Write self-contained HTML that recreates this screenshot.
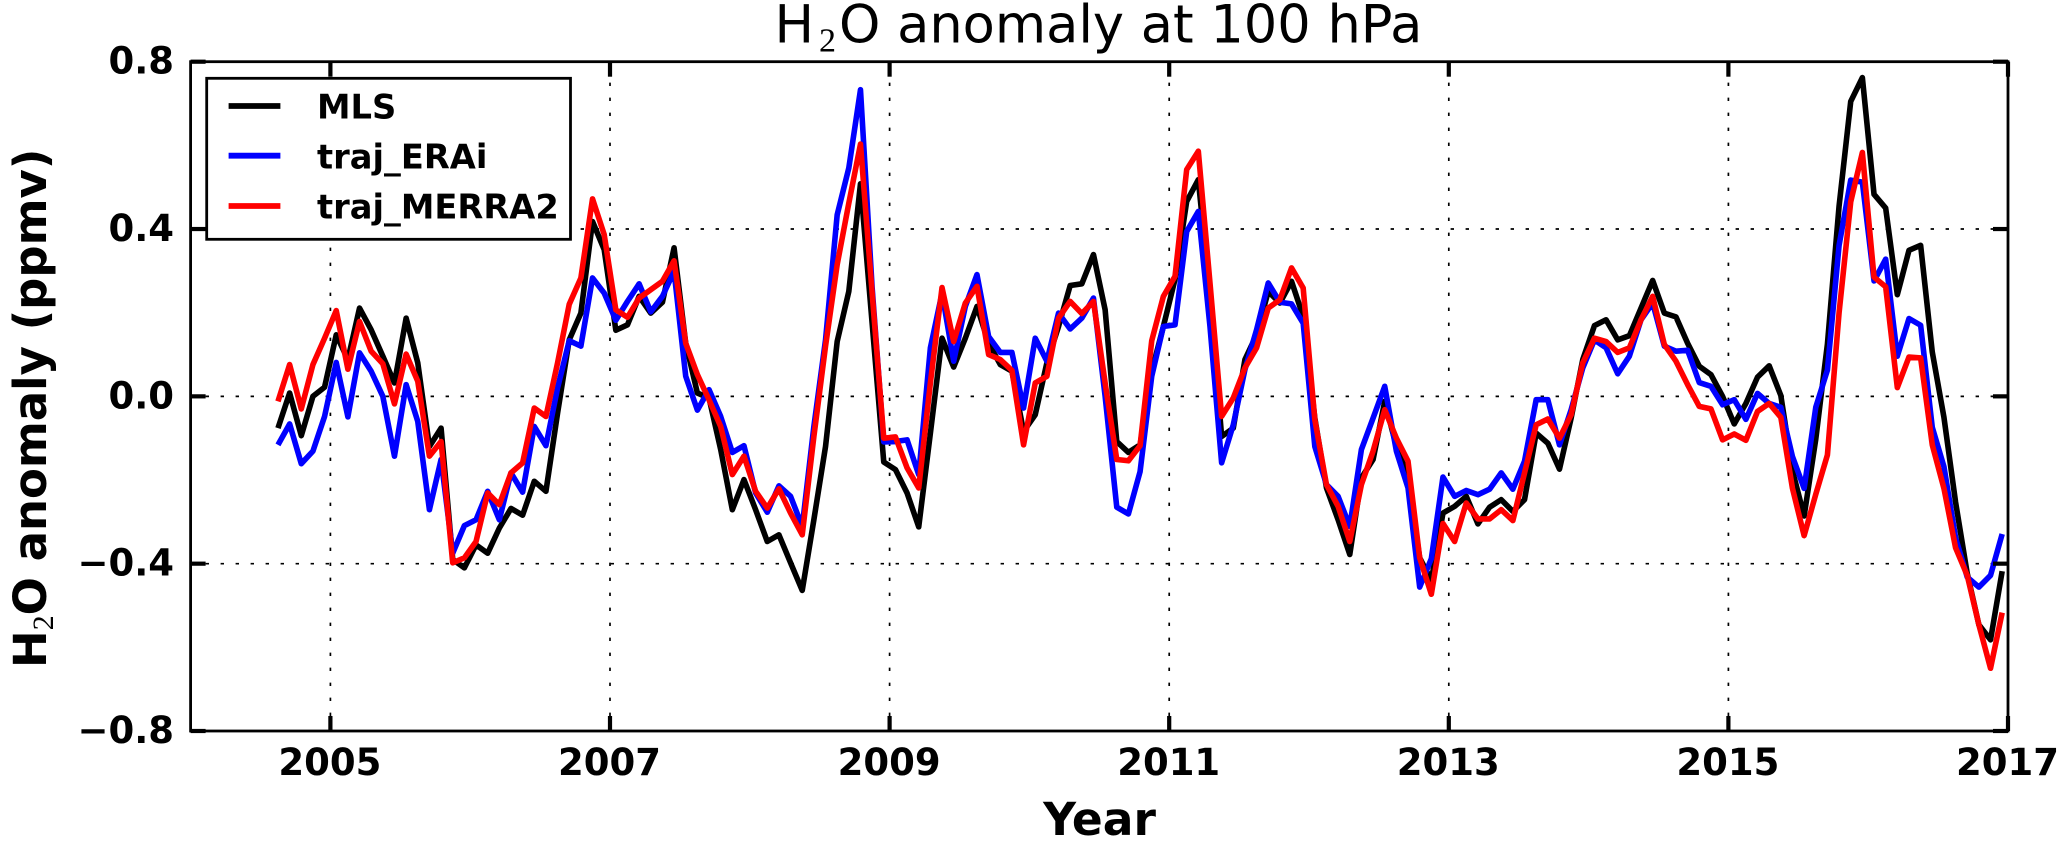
<!DOCTYPE html>
<html lang="en">
<head>
<meta charset="utf-8">
<title>H2O anomaly at 100 hPa</title>
<style>
  html, body { margin: 0; padding: 0; background: #fff; }
  svg { display: block; }
  text { fill: #000; font-family: "DejaVu Sans", "Liberation Sans", sans-serif; }
  .tick-label { font-weight: bold; font-size: 37px; }
  .legend-label { font-weight: bold; font-size: 33.7px; }
</style>
</head>
<body>
<svg id="chart" xmlns="http://www.w3.org/2000/svg" width="2065" height="843" viewBox="0 0 2065 843">
  <rect x="0" y="0" width="2065" height="843" fill="#fff"/>
  <text y="42.7" font-size="52.6"><tspan x="774.5">H</tspan><tspan x="819" y="51.5" font-size="34" style="font-family:'Liberation Serif',serif">2</tspan><tspan x="839" y="42.7">O anomaly at 100 hPa</tspan></text>
  <text transform="translate(46,668) rotate(-90)" font-size="45" font-weight="bold">H<tspan dy="7" font-size="30" font-weight="normal" style="font-family:'Liberation Serif',serif">2</tspan><tspan dy="-7">O anomaly (ppmv)</tspan></text>
  <text x="1099.5" y="835" font-size="45.5" font-weight="bold" text-anchor="middle">Year</text>
  <g id="grid"></g>
  <g id="series"></g>
  <g id="frame"></g>
  <g id="labels"></g>
  <g>
    <rect x="206.7" y="78.3" width="363.8" height="161" fill="#fff" stroke="#000" stroke-width="2.8"/>
    <g>
      <line x1="228.6" x2="280.4" y1="106" y2="106" stroke="#000" stroke-width="5.8"/>
      <text class="legend-label" x="317" y="118.5">MLS</text>
    </g>
    <g>
      <line x1="228.6" x2="280.4" y1="155.7" y2="155.7" stroke="#0000ff" stroke-width="5.8"/>
      <text class="legend-label" x="317" y="168.5">traj_ERAi</text>
    </g>
    <g>
      <line x1="228.6" x2="280.4" y1="206" y2="206" stroke="#ff0000" stroke-width="5.8"/>
      <text class="legend-label" x="317" y="218.5">traj_MERRA2</text>
    </g>
  </g>
</svg>
<script>
const xTicks = [2005, 2007, 2009, 2011, 2013, 2015, 2017];
const yTicks = [0.8, 0.4, 0.0, -0.4, -0.8];
const yTickLabels = ['0.8', '0.4', '0.0', '\u22120.4', '\u22120.8'];

const mlsValues = [
  -0.076, 0.008, -0.094, 0.0, 0.022, 0.147, 0.088, 0.211, 0.159, 0.096, 0.032, 0.187,
  0.08, -0.12, -0.076, -0.39, -0.41, -0.355, -0.375, -0.315, -0.268, -0.284, -0.203, -0.227,
  -0.04, 0.135, 0.199, 0.418, 0.351, 0.158, 0.171, 0.239, 0.199, 0.225, 0.355, 0.127,
  0.008, -0.004, -0.127, -0.271, -0.199, -0.271, -0.347, -0.331, -0.398, -0.464, -0.295, -0.12,
  0.131, 0.251, 0.508, 0.175, -0.157, -0.175, -0.231, -0.312, -0.088, 0.139, 0.07, 0.139,
  0.215, 0.127, 0.076, 0.06, -0.084, -0.044, 0.08, 0.167, 0.265, 0.269, 0.339, 0.207,
  -0.108, -0.134, -0.116, 0.06, 0.167, 0.28, 0.466, 0.518, 0.24, -0.096, -0.076, 0.088,
  0.147, 0.251, 0.223, 0.275, 0.191, -0.052, -0.219, -0.295, -0.378, -0.195, -0.151, -0.012,
  -0.12, -0.191, -0.386, -0.44, -0.279, -0.263, -0.239, -0.305, -0.265, -0.247, -0.275, -0.247,
  -0.088, -0.112, -0.174, -0.052, 0.088, 0.169, 0.183, 0.135, 0.145, 0.211, 0.277, 0.199,
  0.19, 0.127, 0.072, 0.052, 0.0, -0.066, -0.017, 0.046, 0.073, 0.002, -0.178, -0.286,
  -0.102, 0.125, 0.455, 0.705, 0.762, 0.483, 0.45, 0.243, 0.349, 0.361, 0.106, -0.05,
  -0.253, -0.423, -0.546, -0.582, -0.418
];

const eraiValues = [
  -0.116, -0.066, -0.161, -0.131, -0.048, 0.081, -0.049, 0.104, 0.06, 0.0, -0.143, 0.028,
  -0.06, -0.271, -0.151, -0.375, -0.309, -0.295, -0.227, -0.295, -0.183, -0.229, -0.072, -0.118,
  0.02, 0.133, 0.12, 0.283, 0.247, 0.182, 0.227, 0.269, 0.202, 0.239, 0.299, 0.048,
  -0.033, 0.016, -0.048, -0.134, -0.118, -0.231, -0.277, -0.214, -0.239, -0.311, -0.072, 0.135,
  0.434, 0.546, 0.733, 0.26, -0.109, -0.108, -0.104, -0.187, 0.116, 0.247, 0.084, 0.215,
  0.291, 0.143, 0.105, 0.105, -0.028, 0.139, 0.084, 0.199, 0.161, 0.187, 0.235, 0.0,
  -0.265, -0.281, -0.18, 0.048, 0.167, 0.171, 0.394, 0.442, 0.167, -0.159, -0.068, 0.064,
  0.159, 0.271, 0.225, 0.221, 0.175, -0.12, -0.211, -0.239, -0.311, -0.127, -0.052, 0.024,
  -0.131, -0.219, -0.456, -0.388, -0.193, -0.239, -0.225, -0.235, -0.222, -0.183, -0.222, -0.155,
  -0.008, -0.008, -0.116, -0.032, 0.068, 0.135, 0.116, 0.054, 0.096, 0.183, 0.223, 0.12,
  0.108, 0.11, 0.033, 0.024, -0.02, -0.008, -0.055, 0.007, -0.017, -0.026, -0.144, -0.22,
  -0.026, 0.063, 0.361, 0.517, 0.512, 0.276, 0.328, 0.096, 0.186, 0.17, -0.074, -0.168,
  -0.338, -0.432, -0.456, -0.428, -0.329
];

const merra2Values = [
  -0.012, 0.076, -0.03, 0.076, 0.139, 0.205, 0.065, 0.179, 0.108, 0.078, -0.018, 0.101,
  0.036, -0.143, -0.108, -0.398, -0.386, -0.347, -0.231, -0.259, -0.183, -0.159, -0.028, -0.048,
  0.08, 0.22, 0.283, 0.472, 0.387, 0.207, 0.189, 0.235, 0.255, 0.275, 0.324, 0.127,
  0.052, -0.008, -0.072, -0.187, -0.143, -0.227, -0.267, -0.221, -0.279, -0.331, -0.096, 0.12,
  0.315, 0.462, 0.603, 0.247, -0.1, -0.097, -0.171, -0.219, 0.032, 0.26, 0.131, 0.223,
  0.263, 0.1, 0.088, 0.062, -0.116, 0.032, 0.048, 0.187, 0.227, 0.198, 0.227, 0.032,
  -0.151, -0.154, -0.118, 0.133, 0.239, 0.287, 0.542, 0.586, 0.271, -0.048, -0.004, 0.068,
  0.116, 0.211, 0.231, 0.307, 0.259, -0.056, -0.211, -0.263, -0.347, -0.211, -0.131, -0.032,
  -0.1, -0.155, -0.386, -0.473, -0.304, -0.347, -0.255, -0.293, -0.293, -0.271, -0.297, -0.183,
  -0.068, -0.054, -0.1, -0.044, 0.08, 0.139, 0.131, 0.105, 0.116, 0.183, 0.239, 0.124,
  0.084, 0.028, -0.024, -0.03, -0.104, -0.09, -0.105, -0.036, -0.017, -0.05, -0.22, -0.333,
  -0.234, -0.14, 0.2, 0.465, 0.583, 0.285, 0.262, 0.021, 0.094, 0.092, -0.116, -0.22,
  -0.362, -0.428, -0.546, -0.65, -0.517
];

const SVG_NS = 'http://www.w3.org/2000/svg';
const firstMonth = 2004 + 7.5 / 12;
const plot = { left: 190.6, right: 2008, top: 61.7, bottom: 731 };
const xDomain = [2004, 2017];
const yDomain = [-0.8, 0.8];

function xScale(t) {
  return plot.left + (t - xDomain[0]) / (xDomain[1] - xDomain[0]) * (plot.right - plot.left);
}
function yScale(v) {
  return plot.bottom - (v - yDomain[0]) / (yDomain[1] - yDomain[0]) * (plot.bottom - plot.top);
}
function addLine(parent, x1, y1, x2, y2, width) {
  const l = document.createElementNS(SVG_NS, 'line');
  l.setAttribute('x1', x1);
  l.setAttribute('y1', y1);
  l.setAttribute('x2', x2);
  l.setAttribute('y2', y2);
  l.setAttribute('stroke', '#000');
  l.setAttribute('stroke-width', width);
  parent.appendChild(l);
  return l;
}

const gridG = document.getElementById('grid');
const seriesG = document.getElementById('series');
const frameG = document.getElementById('frame');
const labelsG = document.getElementById('labels');

xTicks.forEach(function (t) {
  const x = xScale(t);
  const g = addLine(gridG, x, plot.bottom, x, plot.top, 1.7);
  g.setAttribute('stroke-dasharray', '3.4 11.6');
  
  

  const b = addLine(frameG, x, plot.bottom, x, plot.bottom - 15, 4.2);
  
  

  const tp = addLine(frameG, x, plot.top, x, plot.top + 15, 4.2);
  
  

  const lab = document.createElementNS(SVG_NS, 'text');
  lab.setAttribute('class', 'tick-label');
  lab.setAttribute('x', x - 0.5);
  lab.setAttribute('y', 775);
  lab.setAttribute('text-anchor', 'middle');
  
  
  lab.textContent = String(t);
  labelsG.appendChild(lab);
});

yTicks.forEach(function (v, i) {
  const y = yScale(v);
  const g = addLine(gridG, plot.left, y, plot.right, y, 1.7);
  g.setAttribute('stroke-dasharray', '3.4 11.6');
  
  

  const a = addLine(frameG, plot.left, y, plot.left + 15, y, 4.2);
  
  

  const c = addLine(frameG, plot.right, y, plot.right - 15, y, 4.2);
  
  

  const lab = document.createElementNS(SVG_NS, 'text');
  lab.setAttribute('class', 'tick-label');
  lab.setAttribute('x', 174);
  lab.setAttribute('y', y + 12);
  lab.setAttribute('text-anchor', 'end');
  
  
  lab.textContent = yTickLabels[i];
  labelsG.appendChild(lab);
});

function drawSeries(values, color) {
  const pts = values.map(function (v, i) {
    return xScale(firstMonth + i / 12).toFixed(2) + ',' + yScale(v).toFixed(2);
  }).join(' ');
  const p = document.createElementNS(SVG_NS, 'polyline');
  p.setAttribute('points', pts);
  p.setAttribute('fill', 'none');
  p.setAttribute('stroke', color);
  p.setAttribute('stroke-width', '5.6');
  p.setAttribute('stroke-linejoin', 'round');
  seriesG.appendChild(p);
  return p;
}

const mlsLine = drawSeries(mlsValues, '#000000');



const eraiLine = drawSeries(eraiValues, '#0000ff');



const merra2Line = drawSeries(merra2Values, '#ff0000');



const spine = document.createElementNS(SVG_NS, 'rect');
spine.setAttribute('x', plot.left);
spine.setAttribute('y', plot.top);
spine.setAttribute('width', plot.right - plot.left);
spine.setAttribute('height', plot.bottom - plot.top);
spine.setAttribute('fill', 'none');
spine.setAttribute('stroke', '#000');
spine.setAttribute('stroke-width', '2.8');


frameG.appendChild(spine);
</script>
</body>
</html>
